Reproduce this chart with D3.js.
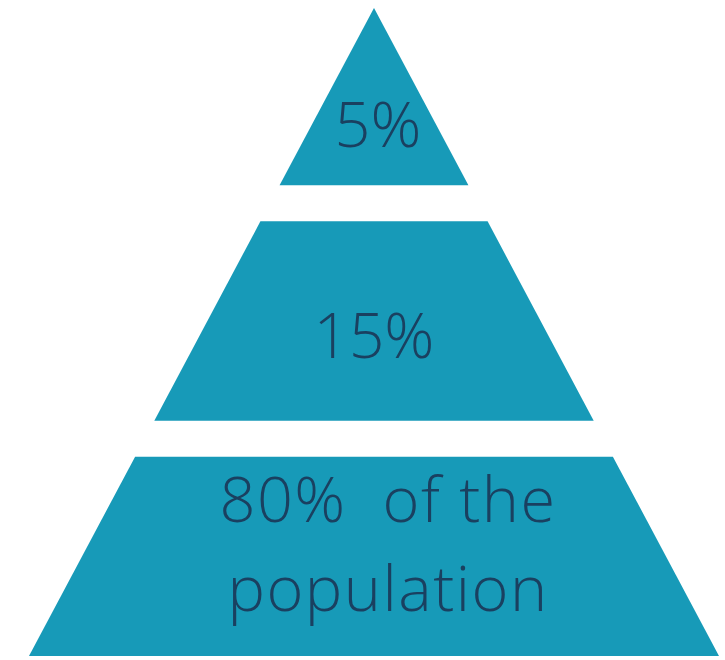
<!DOCTYPE html>
<html>
<head>
<meta charset="utf-8">
<script src="https://cdn.jsdelivr.net/npm/d3@7"></script>
<style>
  body { margin: 0; background: #fff; }
  svg { display: block; }
</style>
</head>
<body>
<div id="chart"></div>
<script>
// Tiers from top to bottom
const tiers = ["top", "middle", "bottom"];
const shares = [5, 15, 80];
const labelLines = [["5%"], ["15%"], ["80%\u00a0\u00a0of the", "population"]];

const width = 725, height = 660;
const fill = "#179ab8";
const textColor = "#1a4060";

const svg = d3.select("#chart")
    .append("svg")
    .attr("width", width)
    .attr("height", height);

// Pyramid geometry: apex at top, wide base at bottom
const cx = 374, apexY = 8, baseY = 656, baseHalf = 345;

const halfWidth = d3.scaleLinear()
    .domain([apexY, baseY])
    .range([0, baseHalf])
    .clamp(true);

// Vertical bands for each tier (top band runs past the apex, clipped by shape)
const y = d3.scaleBand()
    .domain(tiers)
    .range([-14, baseY])
    .paddingInner(0.153);

const data = tiers.map((t, i) => ({ tier: t, share: shares[i], lines: labelLines[i] }));

svg.selectAll("path.tier")
    .data(data)
    .join("path")
    .attr("class", "tier")
    .attr("fill", fill)
    .attr("d", d => {
        const y0 = Math.max(apexY, y(d.tier));
        const y1 = y(d.tier) + y.bandwidth();
        const w0 = halfWidth(y0), w1 = halfWidth(y1);
        return `M${cx - w0},${y0}L${cx + w0},${y0}L${cx + w1},${y1}L${cx - w1},${y1}Z`;
    });

// Label placement inside each band (fraction of band height for baseline)
const labelPos = {
    top: { dx: 4, ys: [0.81], size: 63 },
    middle: { dx: 0, ys: [0.685], size: 62 },
    bottom: { dx: 14, ys: [0.33, 0.775], size: 63 }
};

const labels = svg.selectAll("g.label")
    .data(data)
    .join("g")
    .attr("class", "label");

labels.each(function(d) {
    const p = labelPos[d.tier];
    const top = y(d.tier), bh = y.bandwidth();
    d3.select(this).selectAll("text")
        .data(d.lines)
        .join("text")
        .attr("x", cx + p.dx)
        .attr("y", (line, j) => top + bh * p.ys[j])
        .attr("text-anchor", "middle")
        .attr("fill", textColor)
        .style("font-family", "'Open Sans', sans-serif")
        .style("font-size", p.size + "px")
        .style("font-weight", 350)
        .style("letter-spacing", d.tier === "bottom" ? "1.5px" : "0px")
        .text(line => line);
});
</script>
</body>
</html>
